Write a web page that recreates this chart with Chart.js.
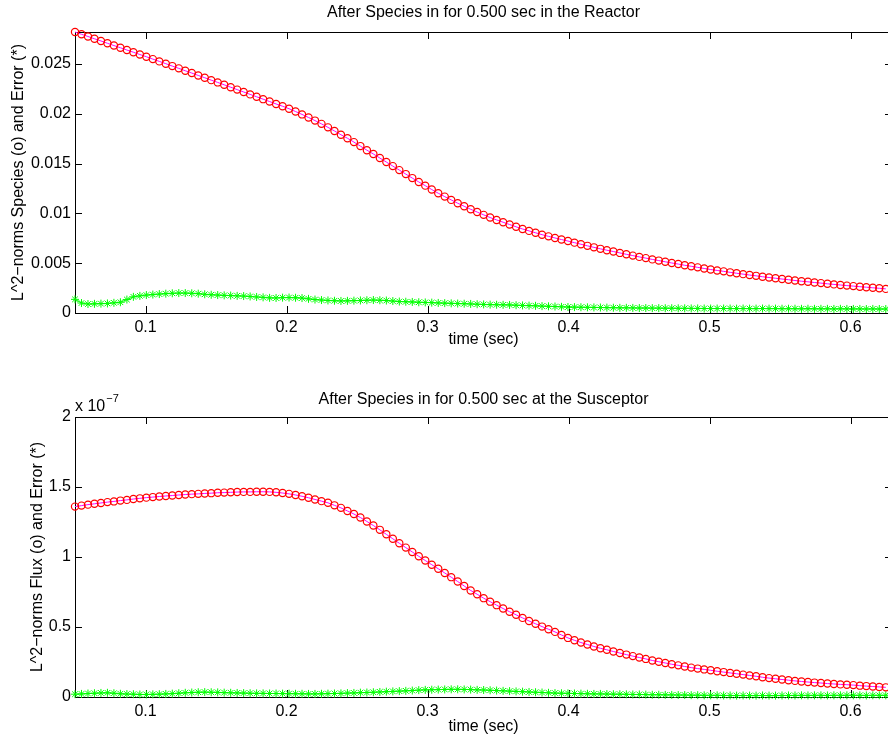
<!DOCTYPE html>
<html lang="en">
<head>
<meta charset="UTF-8" />
<title>L^2-norms after species</title>
<script src="https://cdn.jsdelivr.net/npm/chart.js"></script>
<style>
body { margin: 0; background: #fff; overflow: hidden; }
#wrap { position: relative; width: 900px; height: 742px; }
canvas { position: absolute; left: 0; }
</style>
</head>
<body>
<div id="wrap">
  <canvas id="topChart" width="900" height="380" style="top:0"></canvas>
  <canvas id="botChart" width="900" height="362" style="top:380px"></canvas>
</div>
<script>
// sample times (sec)
const times = [
  0.0500,0.0546,0.0592,0.0638,0.0684,0.0730,0.0776,0.0822,0.0868,0.0914,
  0.0960,0.1006,0.1052,0.1098,0.1144,0.1190,0.1236,0.1282,0.1328,0.1374,
  0.1420,0.1466,0.1512,0.1558,0.1604,0.1650,0.1696,0.1742,0.1788,0.1834,
  0.1880,0.1926,0.1972,0.2018,0.2064,0.2110,0.2156,0.2202,0.2248,0.2294,
  0.2340,0.2386,0.2432,0.2478,0.2524,0.2570,0.2616,0.2662,0.2708,0.2754,
  0.2800,0.2846,0.2892,0.2938,0.2984,0.3030,0.3076,0.3122,0.3168,0.3214,
  0.3260,0.3306,0.3352,0.3398,0.3444,0.3490,0.3536,0.3582,0.3628,0.3674,
  0.3720,0.3766,0.3812,0.3858,0.3904,0.3950,0.3996,0.4042,0.4088,0.4134,
  0.4180,0.4226,0.4272,0.4318,0.4364,0.4410,0.4456,0.4502,0.4548,0.4594,
  0.4640,0.4686,0.4732,0.4778,0.4824,0.4870,0.4916,0.4962,0.5008,0.5054,
  0.5100,0.5146,0.5192,0.5238,0.5284,0.5330,0.5376,0.5422,0.5468,0.5514,
  0.5560,0.5606,0.5652,0.5698,0.5744,0.5790,0.5836,0.5882,0.5928,0.5974,
  0.6020,0.6066,0.6112,0.6158,0.6204,0.6250
];

// top: species in the reactor
const speciesNorm = [
  0.02820,0.02797,0.02775,0.02752,0.02730,0.02707,0.02684,0.02662,0.02639,0.02617,
  0.02594,0.02572,0.02548,0.02525,0.02502,0.02478,0.02455,0.02431,0.02408,0.02384,
  0.02361,0.02337,0.02314,0.02290,0.02266,0.02242,0.02218,0.02194,0.02170,0.02146,
  0.02122,0.02098,0.02075,0.02050,0.02022,0.01993,0.01962,0.01931,0.01898,0.01863,
  0.01827,0.01789,0.01754,0.01715,0.01675,0.01634,0.01596,0.01555,0.01515,0.01474,
  0.01434,0.01394,0.01354,0.01315,0.01278,0.01239,0.01202,0.01168,0.01135,0.01102,
  0.01071,0.01041,0.01013,0.00985,0.00958,0.00934,0.00911,0.00888,0.00865,0.00843,
  0.00824,0.00805,0.00786,0.00769,0.00753,0.00737,0.00722,0.00706,0.00690,0.00674,
  0.00659,0.00644,0.00630,0.00617,0.00603,0.00589,0.00576,0.00563,0.00551,0.00538,
  0.00526,0.00514,0.00502,0.00491,0.00479,0.00469,0.00458,0.00447,0.00436,0.00427,
  0.00418,0.00408,0.00399,0.00390,0.00381,0.00373,0.00364,0.00356,0.00349,0.00341,
  0.00334,0.00326,0.00319,0.00313,0.00306,0.00300,0.00293,0.00287,0.00281,0.00275,
  0.00270,0.00264,0.00259,0.00253,0.00248,0.00242
];
const speciesErr = [
  0.00137,0.00100,0.00090,0.00092,0.00094,0.00096,0.00102,0.00108,0.00135,0.00162,
  0.00172,0.00180,0.00185,0.00190,0.00194,0.00198,0.00200,0.00200,0.00198,0.00194,
  0.00188,0.00183,0.00180,0.00177,0.00175,0.00172,0.00170,0.00166,0.00161,0.00157,
  0.00152,0.00151,0.00154,0.00155,0.00153,0.00150,0.00142,0.00135,0.00130,0.00126,
  0.00123,0.00121,0.00122,0.00124,0.00126,0.00128,0.00130,0.00128,0.00125,0.00120,
  0.00115,0.00113,0.00111,0.00108,0.00106,0.00104,0.00101,0.00099,0.00097,0.00095,
  0.00093,0.00091,0.00088,0.00086,0.00084,0.00083,0.00082,0.00081,0.00078,0.00076,
  0.00074,0.00072,0.00069,0.00067,0.00065,0.00062,0.00060,0.00059,0.00058,0.00057,
  0.00056,0.00055,0.00054,0.00053,0.00052,0.00052,0.00051,0.00050,0.00050,0.00049,
  0.00049,0.00048,0.00048,0.00047,0.00047,0.00046,0.00046,0.00045,0.00045,0.00045,
  0.00045,0.00045,0.00044,0.00045,0.00044,0.00044,0.00045,0.00044,0.00044,0.00043,
  0.00043,0.00043,0.00042,0.00043,0.00042,0.00042,0.00042,0.00041,0.00042,0.00041,
  0.00041,0.00041,0.00040,0.00041,0.00040,0.00040
];

// bottom: flux at the susceptor, in units of 1e-7
const fluxNorm = [
  1.360,1.367,1.374,1.380,1.386,1.392,1.397,1.403,1.408,1.414,
  1.419,1.424,1.428,1.432,1.436,1.439,1.443,1.446,1.449,1.451,
  1.454,1.456,1.459,1.460,1.462,1.464,1.465,1.465,1.466,1.466,
  1.465,1.462,1.457,1.451,1.443,1.434,1.423,1.411,1.399,1.387,
  1.369,1.351,1.329,1.307,1.282,1.254,1.225,1.194,1.162,1.130,
  1.098,1.067,1.036,1.005,0.975,0.945,0.916,0.886,0.856,0.825,
  0.793,0.761,0.734,0.706,0.681,0.656,0.632,0.609,0.587,0.565,
  0.543,0.523,0.503,0.484,0.465,0.443,0.422,0.405,0.389,0.375,
  0.361,0.348,0.337,0.325,0.314,0.303,0.292,0.282,0.272,0.261,
  0.252,0.243,0.234,0.226,0.218,0.210,0.203,0.197,0.191,0.184,
  0.178,0.172,0.166,0.160,0.154,0.148,0.141,0.135,0.130,0.125,
  0.120,0.115,0.111,0.107,0.103,0.100,0.096,0.093,0.090,0.088,
  0.085,0.081,0.078,0.075,0.072,0.069
];
const fluxErr = [
  0.020,0.022,0.025,0.027,0.029,0.030,0.027,0.023,0.021,0.020,
  0.018,0.018,0.019,0.020,0.022,0.024,0.027,0.030,0.032,0.034,
  0.035,0.034,0.033,0.031,0.030,0.029,0.028,0.027,0.026,0.026,
  0.025,0.025,0.024,0.024,0.023,0.023,0.022,0.022,0.023,0.024,
  0.025,0.026,0.028,0.029,0.031,0.032,0.034,0.036,0.038,0.040,
  0.042,0.044,0.046,0.049,0.051,0.052,0.053,0.054,0.055,0.055,
  0.054,0.053,0.051,0.050,0.048,0.046,0.044,0.042,0.040,0.038,
  0.036,0.034,0.032,0.030,0.028,0.027,0.026,0.025,0.024,0.023,
  0.022,0.022,0.021,0.020,0.020,0.019,0.018,0.018,0.017,0.016,
  0.016,0.015,0.015,0.014,0.014,0.013,0.013,0.012,0.012,0.012,
  0.011,0.011,0.010,0.011,0.010,0.010,0.011,0.010,0.010,0.011,
  0.011,0.011,0.012,0.011,0.012,0.012,0.011,0.012,0.012,0.012,
  0.012,0.012,0.011,0.012,0.012,0.012
];

const xTicks = [0.1, 0.2, 0.3, 0.4, 0.5, 0.6];
const xTickLabels = ['0.1', '0.2', '0.3', '0.4', '0.5', '0.6'];
const yTicksTop = [0, 0.005, 0.01, 0.015, 0.02, 0.025];
const yTickLabelsTop = ['0', '0.005', '0.01', '0.015', '0.02', '0.025'];
const yTicksBot = [0, 0.5, 1, 1.5, 2];
const yTickLabelsBot = ['0', '0.5', '1', '1.5', '2'];

const FONT = "'Liberation Sans', Arial, Helvetica, sans-serif";
const FS = 16;
const X_MIN = 0.05, X_MAX = 0.6294;

function pts(ys) { return times.map((t, i) => ({ x: t, y: ys[i] })); }

// matlab style box with inward ticks on all four sides, title centred on the axes
const boxPlugin = {
  id: 'matBox',
  beforeDatasetsDraw(chart, args, o) {
    const { ctx, chartArea: a, scales: { x, y } } = chart;
    const tl = 7;
    ctx.save();
    ctx.strokeStyle = '#000';
    ctx.lineWidth = 1;
    ctx.strokeRect(a.left + 0.5, a.top + 0.5, a.right - a.left, a.bottom - a.top);
    ctx.beginPath();
    x.ticks.forEach(t => {
      const px = Math.round(x.getPixelForValue(t.value)) + 0.5;
      ctx.moveTo(px, a.bottom); ctx.lineTo(px, a.bottom - tl);
      ctx.moveTo(px, a.top); ctx.lineTo(px, a.top + tl);
    });
    y.ticks.forEach(t => {
      const py = Math.round(y.getPixelForValue(t.value)) + 0.5;
      ctx.moveTo(a.left, py); ctx.lineTo(a.left + tl, py);
      ctx.moveTo(a.right, py); ctx.lineTo(a.right - tl, py);
    });
    ctx.stroke();
    ctx.fillStyle = '#000';
    ctx.font = FS + 'px ' + FONT;
    ctx.textAlign = 'center';
    ctx.textBaseline = 'middle';
    ctx.fillText(o.text, (a.left + a.right) / 2, o.y);
    ctx.restore();
  }
};

function makeChart(id, p) {
  const font = { family: FONT, size: FS, weight: 'normal' };
  return new Chart(document.getElementById(id), {
    type: 'line',
    data: {
      datasets: [
        { data: pts(p.norm), borderColor: '#ff00ff', borderWidth: 1, tension: 0, fill: false, clip: false,
          pointStyle: 'circle', pointRadius: 3.6, pointBorderColor: '#ff0000',
          pointBackgroundColor: 'rgba(0,0,0,0)', pointBorderWidth: 1.2 },
        { data: pts(p.err), borderColor: '#00ff00', borderWidth: 1, tension: 0, fill: false, clip: false,
          pointStyle: 'star', pointRadius: 4, pointBorderColor: '#00ff00',
          pointBackgroundColor: '#00ff00', pointBorderWidth: 1 }
      ]
    },
    options: {
      responsive: false, animation: false, events: [],
      layout: { padding: { left: 0, right: 8, top: p.top, bottom: 0 } },
      plugins: {
        legend: { display: false }, tooltip: { enabled: false }, title: { display: false },
        matBox: { text: p.title, y: p.titleY }
      },
      scales: {
        x: {
          type: 'linear', min: X_MIN, max: X_MAX,
          afterFit(s) { s.height = p.xH; },
          afterBuildTicks(s) { s.ticks = xTicks.map(v => ({ value: v })); },
          grid: { display: false, drawTicks: false }, border: { display: false },
          ticks: { color: '#000', font, padding: 5, maxRotation: 0, autoSkip: false,
                   callback: (v, i) => xTickLabels[i] },
          title: { display: true, text: 'time (sec)', color: '#000', font,
                   padding: { top: 0, bottom: p.xTitlePad } }
        },
        y: {
          type: 'linear', min: 0, max: p.yMax,
          afterFit(s) { s.width = 75; },
          afterBuildTicks(s) { s.ticks = p.yTicks.map(v => ({ value: v })); },
          grid: { display: false, drawTicks: false }, border: { display: false },
          ticks: { color: '#000', font, padding: 4, autoSkip: false,
                   callback: (v, i) => p.yLabels[i] },
          title: { display: true, text: p.yTitle, color: '#000', font,
                   padding: { top: p.yTitlePad, bottom: 0 } }
        }
      }
    },
    plugins: [boxPlugin].concat(p.extra || [])
  });
}

makeChart('topChart', {
  title: 'After Species in for 0.500 sec in the Reactor', titleY: 13, top: 32,
  xH: 67, xTitlePad: 30.4,
  yMax: 0.0282, yTicks: yTicksTop, yLabels: yTickLabelsTop,
  yTitle: 'L^2\u2212norms Species (o) and Error (*)', yTitlePad: 9.4,
  norm: speciesNorm, err: speciesErr
});

// "x 10^-7" multiplier above the flux axis
const expPlugin = {
  id: 'expLabel',
  afterDraw(chart) {
    const { ctx, chartArea: a } = chart;
    ctx.save();
    ctx.fillStyle = '#000';
    ctx.textBaseline = 'middle';
    ctx.font = FS + 'px ' + FONT;
    ctx.fillText('x 10', a.left, a.top - 10);
    const w = ctx.measureText('x 10').width;
    ctx.font = '11px ' + FONT;
    ctx.fillText('\u22127', a.left + w + 1, a.top - 18);
    ctx.restore();
  }
};

makeChart('botChart', {
  title: 'After Species in for 0.500 sec at the Susceptor', titleY: 20, top: 37,
  xH: 45, xTitlePad: 5.4,
  yMax: 2, yTicks: yTicksBot, yLabels: yTickLabelsBot,
  yTitle: 'L^2\u2212norms Flux (o) and Error (*)', yTitlePad: 28.4,
  norm: fluxNorm, err: fluxErr, extra: [expPlugin]
});
</script>
</body>
</html>
